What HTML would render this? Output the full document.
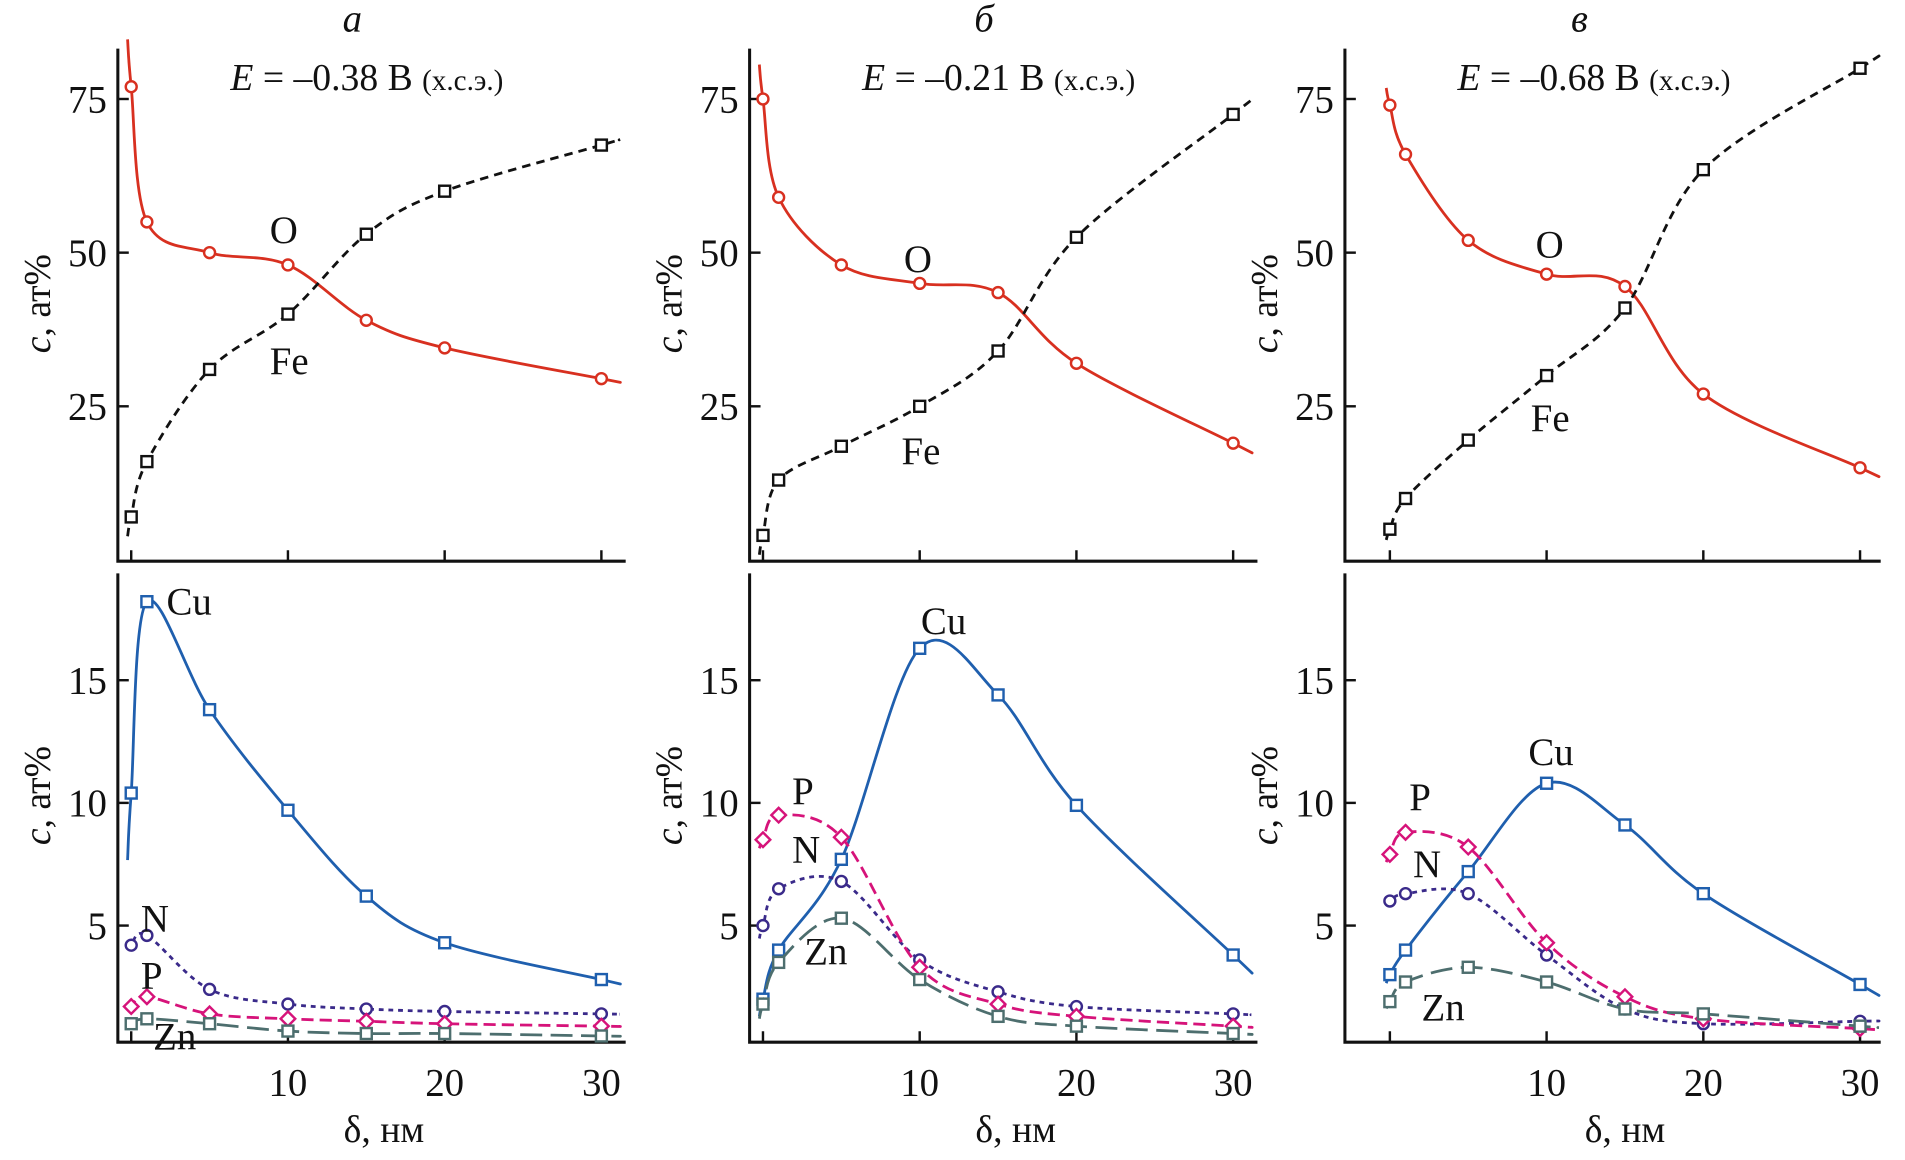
<!DOCTYPE html>
<html><head><meta charset="utf-8"><style>
html,body{margin:0;padding:0;background:#fff}
svg{display:block}
text{font-family:"Liberation Serif",serif;fill:#111}
</style></head><body>
<svg id="chart" width="1905" height="1160" viewBox="0 0 1568 955" preserveAspectRatio="none" xmlns="http://www.w3.org/2000/svg"></svg>
<script>
// data
const depths = [0, 1, 5, 10, 15, 20, 30];
const panelTitles = ["а", "б", "в"];
const potentials = ["–0.38", "–0.21", "–0.68"];
const topTicks = [25, 50, 75];
const botTicks = [5, 10, 15];
const xTicks = [10, 20, 30];
const O_a = [77, 55, 50, 48, 39, 34.5, 29.5];
const Fe_a = [7, 16, 31, 40, 53, 60, 67.5];
const Cu_a = [10.4, 18.2, 13.8, 9.7, 6.2, 4.3, 2.8];
const N_a = [4.2, 4.6, 2.4, 1.8, 1.6, 1.5, 1.4];
const P_a = [1.7, 2.1, 1.4, 1.2, 1.1, 1.0, 0.9];
const Zn_a = [1.0, 1.2, 1.0, 0.7, 0.6, 0.6, 0.5];
const O_b = [75, 59, 48, 45, 43.5, 32, 19];
const Fe_b = [4, 13, 18.5, 25, 34, 52.5, 72.5];
const Cu_b = [2, 4, 7.7, 16.3, 14.4, 9.9, 3.8];
const N_b = [5, 6.5, 6.8, 3.6, 2.3, 1.7, 1.4];
const P_b = [8.5, 9.5, 8.6, 3.3, 1.8, 1.3, 0.9];
const Zn_b = [1.8, 3.5, 5.3, 2.8, 1.3, 0.9, 0.6];
const O_c = [74, 66, 52, 46.5, 44.5, 27, 15];
const Fe_c = [5, 10, 19.5, 30, 41, 63.5, 80];
const Cu_c = [3, 4, 7.2, 10.8, 9.1, 6.3, 2.6];
const N_c = [6, 6.3, 6.3, 3.8, 1.6, 1.0, 1.1];
const P_c = [7.9, 8.8, 8.2, 4.3, 2.1, 1.2, 0.8];
const Zn_c = [1.9, 2.7, 3.3, 2.7, 1.6, 1.4, 0.9];

const svg = document.getElementById('chart');
const NS = 'http://www.w3.org/2000/svg';
function mk(tag, attrs, parent) {
  const e = document.createElementNS(NS, tag);
  for (const k in attrs) e.setAttribute(k, attrs[k]);
  (parent || svg).appendChild(e);
  return e;
}
function txt(s, x, y, size, parent, extra) {
  const t = mk('text', Object.assign({x: x, y: y, 'font-size': size}, extra || {}), parent);
  t.textContent = s;
  return t;
}
function smooth(pts) {
  let d = 'M' + pts[0][0] + ',' + pts[0][1];
  for (let i = 0; i < pts.length - 1; i++) {
    const p0 = pts[Math.max(0, i - 1)], p1 = pts[i], p2 = pts[i + 1], p3 = pts[Math.min(pts.length - 1, i + 2)];
    const c1 = [p1[0] + (p2[0] - p0[0]) / 6, p1[1] + (p2[1] - p0[1]) / 6];
    const c2 = [p2[0] - (p3[0] - p1[0]) / 6, p2[1] - (p3[1] - p1[1]) / 6];
    d += ' C' + c1[0] + ',' + c1[1] + ' ' + c2[0] + ',' + c2[1] + ' ' + p2[0] + ',' + p2[1];
  }
  return d;
}
const panels = [
  {ax: 97, x0: 108, end: 515, O: O_a, Fe: Fe_a, Cu: Cu_a, N: N_a, P: P_a, Zn: Zn_a,
   lab: {O: [222, 200], Fe: [222, 308], Cu: [137, 506], N: [116, 767], P: [116, 814], Zn: [126, 864]}},
  {ax: 617, x0: 628, end: 1035, O: O_b, Fe: Fe_b, Cu: Cu_b, N: N_b, P: P_b, Zn: Zn_b,
   lab: {O: [744, 224], Fe: [742, 382], Cu: [758, 522], N: [652, 710], P: [652, 662], Zn: [662, 794]}},
  {ax: 1107, x0: 1144, end: 1548, O: O_c, Fe: Fe_c, Cu: Cu_c, N: N_c, P: P_c, Zn: Zn_c,
   lab: {O: [1264, 212], Fe: [1260, 355], Cu: [1258, 630], N: [1163, 722], P: [1160, 667], Zn: [1170, 840]}}
];
const topBase = 461, topScale = 5.06, botBase = 863, botScale = 20.2, xScale = 12.9;
const series = [
  {k: 'O', c: '#d83020', dash: '', mark: 'circle', top: true},
  {k: 'Fe', c: '#111', dash: '7,5', mark: 'square', top: true},
  {k: 'Cu', c: '#1f5fae', dash: '', mark: 'square', top: false},
  {k: 'N', c: '#3a2a8a', dash: '4,4', mark: 'circle', top: false},
  {k: 'P', c: '#d6137a', dash: '10,5', mark: 'diamond', top: false},
  {k: 'Zn', c: '#4d6e6e', dash: '18,7', mark: 'square', top: false}
];
panels.forEach((p, i) => {
  const g = mk('g', {});
  
  
  const xs = v => p.x0 + v * xScale;
  const yt = v => topBase - v * topScale;
  const yb = v => botBase - v * botScale;
  const t = txt(panelTitles[i], p.ax + 193, 26, 32, g, {'text-anchor': 'middle', 'font-style': 'italic'});
  
  
  const e = mk('text', {x: p.ax + 205, y: 74, 'font-size': 31, 'text-anchor': 'middle'}, g);
  
  
  e.innerHTML = '<tspan font-style="italic">E</tspan> = ' + potentials[i] + ' В <tspan font-size="24">(х.с.э.)</tspan>';
  const axes = mk('path', {d: 'M' + p.ax + ',40 V462 H' + p.end + ' M' + p.ax + ',472 V858 H' + p.end, stroke: '#111', 'stroke-width': 2.5, fill: 'none'}, g);
  
  
  topTicks.forEach(v => {
    mk('line', {x1: p.ax, x2: p.ax + 9, y1: yt(v), y2: yt(v), stroke: '#111', 'stroke-width': 2}, g);
    const l = txt(v, p.ax - 9, yt(v) + 11, 32, g, {'text-anchor': 'end'});
    
    
  });
  botTicks.forEach(v => {
    mk('line', {x1: p.ax, x2: p.ax + 9, y1: yb(v), y2: yb(v), stroke: '#111', 'stroke-width': 2}, g);
    const l = txt(v, p.ax - 9, yb(v) + 11, 32, g, {'text-anchor': 'end'});
    
    
  });
  [0].concat(xTicks).forEach(v => {
    mk('line', {x1: xs(v), x2: xs(v), y1: 462, y2: 453, stroke: '#111', 'stroke-width': 2}, g);
    mk('line', {x1: xs(v), x2: xs(v), y1: 858, y2: 849, stroke: '#111', 'stroke-width': 2}, g);
  });
  xTicks.forEach(v => {
    const l = txt(v, xs(v), 902, 32, g, {'text-anchor': 'middle'});
    
    
  });
  const xl = mk('text', {x: (p.ax + p.end) / 2 + 10, y: 940, 'font-size': 31, 'text-anchor': 'middle'}, g);
  xl.textContent = 'δ, нм';
  
  
  [[250, 'top'], [655, 'bot']].forEach(([cy, w]) => {
    const yl = mk('text', {x: 0, y: 0, 'font-size': 31, 'text-anchor': 'middle', transform: 'translate(' + (p.ax - 56) + ',' + cy + ') rotate(-90)'}, g);
    yl.innerHTML = '<tspan font-style="italic">c</tspan>, ат%';
    
    
  });
  series.forEach(s => {
    const vals = p[s.k];
    const Y = s.top ? yt : yb;
    const pts = depths.map((d, j) => [xs(d), Y(vals[j])]);
    const last = pts[pts.length - 1], prev = pts[pts.length - 2];
    const ext = [last[0] + 15, last[1] + (last[1] - prev[1]) / (last[0] - prev[0]) * 15];
    const f = pts[0], n = pts[1];
    const pre = [f[0] - 3, f[1] - (n[1] - f[1]) * 0.35];
    const line = mk('path', {d: smooth([pre].concat(pts, [ext])), fill: 'none', stroke: s.c, 'stroke-width': 2.3, 'stroke-dasharray': s.dash}, g);
    
    
    pts.forEach(q => {
      let m;
      if (s.mark === 'circle') m = mk('circle', {cx: q[0], cy: q[1], r: 4.5, fill: '#fff', stroke: s.c, 'stroke-width': 2}, g);
      else if (s.mark === 'square') m = mk('rect', {x: q[0] - 4.5, y: q[1] - 4.5, width: 9, height: 9, fill: '#fff', stroke: s.c, 'stroke-width': 2}, g);
      else m = mk('path', {d: 'M' + q[0] + ',' + (q[1] - 6) + ' l6,6 l-6,6 l-6,-6z', fill: '#fff', stroke: s.c, 'stroke-width': 2}, g);
      
      
    });
    const lp = p.lab[s.k];
    const lt = txt(s.k, lp[0], lp[1], 32, g);
    
    
  });
});
</script>
</body></html>
